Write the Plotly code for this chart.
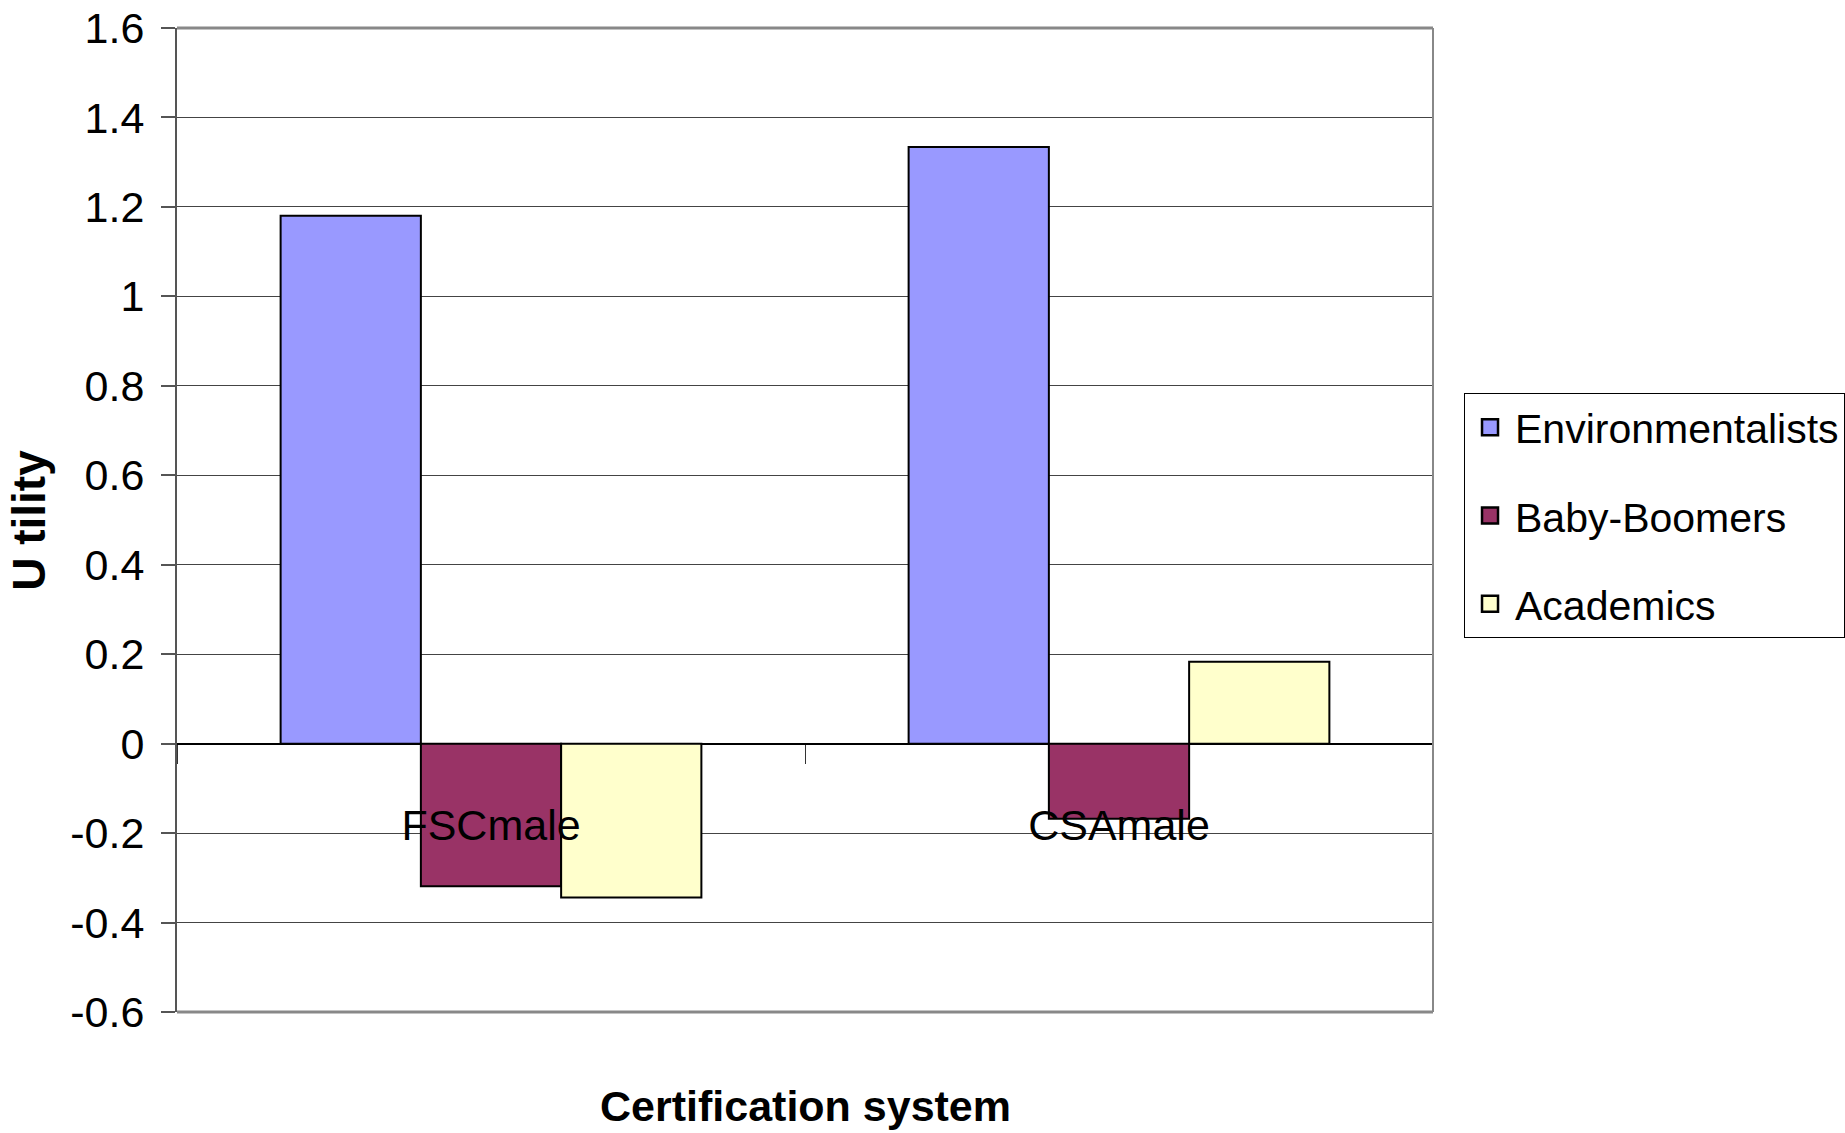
import plotly.graph_objects as go

categories = ["FSCmale", "CSAmale"]
series_names = ["Environmentalists", "Baby-Boomers", "Academics"]
environmentalists = [1.18, 1.334]
baby_boomers = [-0.319, -0.168]
academics = [-0.344, 0.183]
colors = ["#9999FF", "#993366", "#FFFFCC"]
y_ticks = [1.6, 1.4, 1.2, 1, 0.8, 0.6, 0.4, 0.2, 0, -0.2, -0.4, -0.6]
y_tick_text = ["1.6", "1.4", "1.2", "1", "0.8", "0.6", "0.4", "0.2", "0", "-0.2", "-0.4", "-0.6"]

FONT = "Liberation Sans Narrow, Arial Narrow, Liberation Sans, Arial"
values = [environmentalists, baby_boomers, academics]

fig = go.Figure()
for name, vals, col in zip(series_names, values, colors):
    fig.add_trace(go.Bar(x=categories, y=vals, name=name, showlegend=False,
                         marker=dict(color=col, line=dict(color="black", width=2))))
# legend proxies (larger swatches)
for i, (name, col) in enumerate(zip(series_names, colors)):
    fig.add_trace(go.Scatter(x=[None], y=[None], mode="markers", name=name,
                             legendgroup=f"g{i}",
                             marker=dict(symbol="square", size=26, color=col,
                                         line=dict(color="black", width=2.5))))

ymin, ymax = -0.6, 1.6
zero_pos = (0 - ymin) / (ymax - ymin)

fig.update_layout(
    width=1845, height=1133,
    margin=dict(l=177, r=412, t=28, b=121, autoexpand=False),
    paper_bgcolor="white", plot_bgcolor="white",
    barmode="group", bargap=0.33, bargroupgap=0,
    font=dict(family=FONT, color="black"),
    legend=dict(x=1.0247, y=0.629, xanchor="left", yanchor="top",
                bordercolor="black", borderwidth=1, bgcolor="white",
                font=dict(size=41, family=FONT), tracegroupgap=32,
                itemsizing="trace", itemwidth=40),
    xaxis=dict(anchor="free", position=zero_pos, showline=False, showgrid=False,
               ticks="outside", tickson="boundaries", ticklen=19, tickcolor="#333",
               tickwidth=1, tickfont=dict(size=43, family=FONT),
               ticklabelstandoff=52, range=[-0.5, 1.5]),
    yaxis=dict(range=[ymin, ymax], tickvals=y_ticks, ticktext=y_tick_text,
               showgrid=True, gridcolor="#444", gridwidth=1,
               zeroline=True, zerolinecolor="black", zerolinewidth=1.5,
               showline=True, linecolor="#555", linewidth=2, mirror=False,
               ticks="outside", ticklen=14, tickcolor="#555", tickwidth=2,
               tickfont=dict(size=43, family=FONT), ticklabelstandoff=8),
    shapes=[
        dict(type="line", xref="x domain", yref="y domain", x0=0, x1=1, y0=1, y1=1,
             line=dict(color="#888", width=3), layer="above"),
        dict(type="line", xref="x domain", yref="y domain", x0=0, x1=1, y0=0, y1=0,
             line=dict(color="#888", width=3), layer="above"),
        dict(type="line", xref="x domain", yref="y domain", x0=1, x1=1, y0=0, y1=1,
             line=dict(color="#888", width=2), layer="above"),
    ],
    annotations=[
        dict(text="<b>Certification system</b>", xref="paper", yref="paper",
             x=0.5, y=-0.0955, xanchor="center", yanchor="middle", showarrow=False,
             font=dict(size=43, family=FONT)),
        dict(text="<b>U tility</b>", xref="paper", yref="paper",
             x=-0.118, y=(1012 - 520) / 984,
             xanchor="center", yanchor="middle", showarrow=False, textangle=-90,
             font=dict(size=46, family=FONT)),
    ],
)

fig.write_html("out.html")
